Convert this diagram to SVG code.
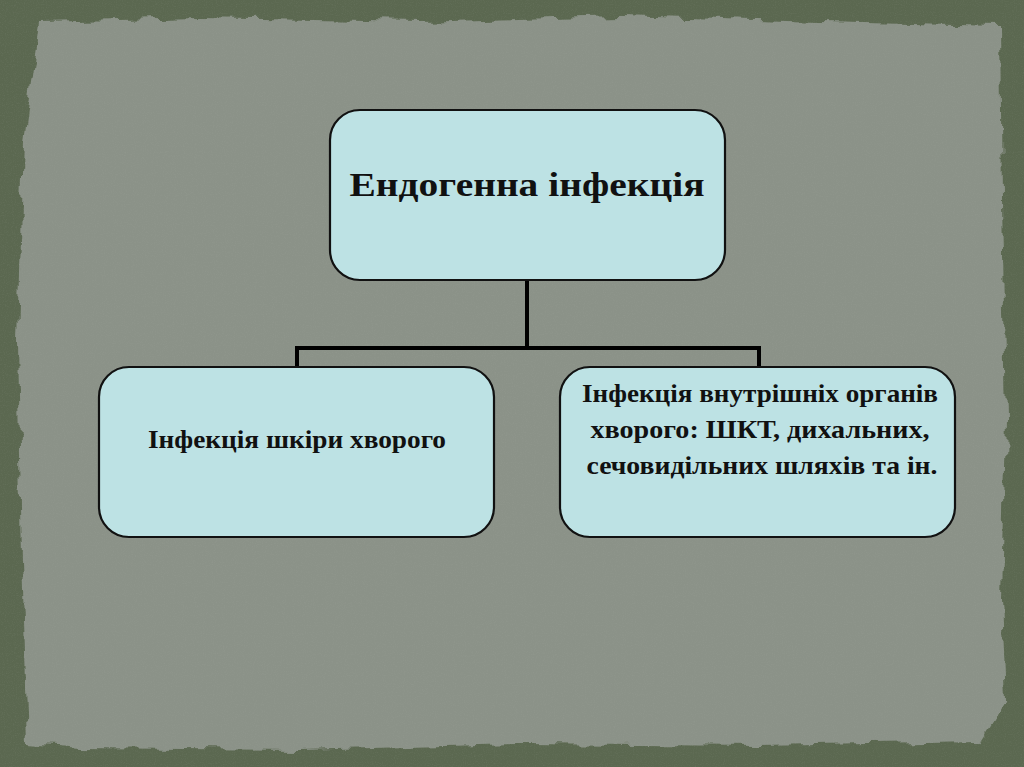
<svg xmlns="http://www.w3.org/2000/svg" width="1024" height="767" viewBox="0 0 1024 767">
<style>
.box{fill:#bde2e4;stroke:#111;stroke-width:2.2}
.t{font-family:"Liberation Serif","Times New Roman",serif;font-weight:bold;fill:#111;text-anchor:middle}
.conn{fill:none;stroke:#000;stroke-width:4}
</style>
<defs>
<filter id="rough" x="-5%" y="-5%" width="110%" height="110%">
<feTurbulence type="fractalNoise" baseFrequency="0.04" numOctaves="3" seed="4" result="n"/>
<feDisplacementMap in="SourceGraphic" in2="n" scale="14" xChannelSelector="R" yChannelSelector="G"/>
</filter>
<filter id="grain">
<feTurbulence type="fractalNoise" baseFrequency="0.9" numOctaves="2" seed="2"/>
<feColorMatrix type="matrix" values="0 0 0 0 0.5  0 0 0 0 0.52  0 0 0 0 0.48  0 0 0 -1.4 0.75"/>
</filter>
</defs>
<rect id="border" x="0" y="0" width="1024" height="767" fill="#5b6850"/>
<path id="paper" filter="url(#rough)" fill="#8b9288" d="M40,22 L200,18 L420,22 L620,16 L820,22 L1000,26 L1002,200 L1006,420 L1002,600 L1006,700 L980,742 L760,746 L520,744 L300,750 L80,748 L28,744 L22,560 L18,340 L24,140 Z"/>
<rect x="0" y="0" width="1024" height="767" filter="url(#grain)" opacity="0.15"/>
<g id="connectors">
<path class="conn" d="M527,280 V348"/>
<path class="conn" d="M297,367 V348 H759 V367"/>
</g>
<g id="node-top">
<rect class="box" x="330" y="110" width="395" height="170" rx="30"/>
<text class="t" x="527" y="196" font-size="34" textLength="355" lengthAdjust="spacingAndGlyphs">Ендогенна інфекція</text>
</g>
<g id="node-left">
<rect class="box" x="99" y="367" width="395" height="170" rx="30"/>
<text class="t" x="297" y="448" font-size="25" textLength="298" lengthAdjust="spacingAndGlyphs">Інфекція шкіри хворого</text>
</g>
<g id="node-right">
<rect class="box" x="560" y="367" width="395" height="170" rx="30"/>
<text class="t" x="760" y="402" font-size="26" textLength="356" lengthAdjust="spacingAndGlyphs">Інфекція внутрішніх органів</text>
<text class="t" x="760" y="438" font-size="26" textLength="339" lengthAdjust="spacingAndGlyphs">хворого: ШКТ, дихальних,</text>
<text class="t" x="762" y="474" font-size="26" textLength="351" lengthAdjust="spacingAndGlyphs">сечовидільних шляхів та ін.</text>
</g>
</svg>
